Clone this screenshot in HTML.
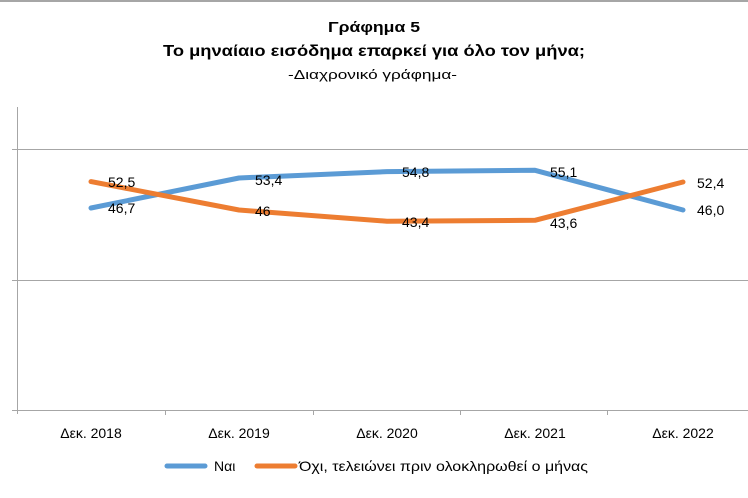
<!DOCTYPE html>
<html><head><meta charset="utf-8"><style>
html,body{margin:0;padding:0;background:#fff;}
svg{display:block;font-family:"Liberation Sans","DejaVu Sans",sans-serif;}
</style></head><body>
<svg width="748" height="498" viewBox="0 0 748 498" xmlns="http://www.w3.org/2000/svg">
<rect x="0" y="0" width="748" height="498" fill="#fff"/>
<line x1="0" y1="1" x2="748" y2="1" stroke="#a6a6a6" stroke-width="2"/>
<text x="328" y="32" textLength="92" lengthAdjust="spacingAndGlyphs" font-size="15" font-weight="bold" fill="#000">Γράφημα 5</text>
<text x="163" y="56" textLength="422" lengthAdjust="spacingAndGlyphs" font-size="15.5" font-weight="bold" fill="#000">Το μηναίαιο εισόδημα επαρκεί για όλο τον μήνα;</text>
<text x="288" y="79" textLength="169" lengthAdjust="spacingAndGlyphs" font-size="13" fill="#000">-Διαχρονικό γράφημα-</text>
<g stroke="#a6a6a6" stroke-width="1">
<line x1="12" y1="149.5" x2="748" y2="149.5"/>
<line x1="12" y1="280.5" x2="748" y2="280.5"/>
<line x1="12" y1="410.5" x2="748" y2="410.5"/>
<line x1="17.5" y1="107" x2="17.5" y2="414"/>
<line x1="165.5" y1="410" x2="165.5" y2="415"/>
<line x1="313.5" y1="410" x2="313.5" y2="415"/>
<line x1="460.5" y1="410" x2="460.5" y2="415"/>
<line x1="607.5" y1="410" x2="607.5" y2="415"/>
</g>
<polyline points="91,208 239,178 387,171.6 535,170.3 683,210" fill="none" stroke="#5B9BD5" stroke-width="5" stroke-linecap="round" stroke-linejoin="round"/>
<polyline points="91,181.6 239,210 387,221.2 535,220.3 683,182" fill="none" stroke="#ED7D31" stroke-width="5" stroke-linecap="round" stroke-linejoin="round"/>
<g font-size="14" fill="#000">
<text x="108" y="187">52,5</text>
<text x="108" y="213">46,7</text>
<text x="255" y="185">53,4</text>
<text x="255" y="216">46</text>
<text x="402" y="177">54,8</text>
<text x="402" y="227">43,4</text>
<text x="550" y="177">55,1</text>
<text x="550" y="228">43,6</text>
<text x="697" y="188">52,4</text>
<text x="697" y="215">46,0</text>
</g>
<g font-size="14" fill="#000" text-anchor="middle">
<text x="91" y="438">Δεκ. 2018</text>
<text x="239" y="438">Δεκ. 2019</text>
<text x="387" y="438">Δεκ. 2020</text>
<text x="535" y="438">Δεκ. 2021</text>
<text x="683" y="438">Δεκ. 2022</text>
</g>
<line x1="167" y1="466" x2="205" y2="466" stroke="#5B9BD5" stroke-width="5" stroke-linecap="round"/>
<text x="214" y="471" font-size="14" fill="#000">Ναι</text>
<line x1="257" y1="466" x2="295" y2="466" stroke="#ED7D31" stroke-width="5" stroke-linecap="round"/>
<text x="299" y="471" font-size="14" textLength="289" lengthAdjust="spacingAndGlyphs" fill="#000">Όχι, τελειώνει πριν ολοκληρωθεί ο μήνας</text>
</svg>
</body></html>
